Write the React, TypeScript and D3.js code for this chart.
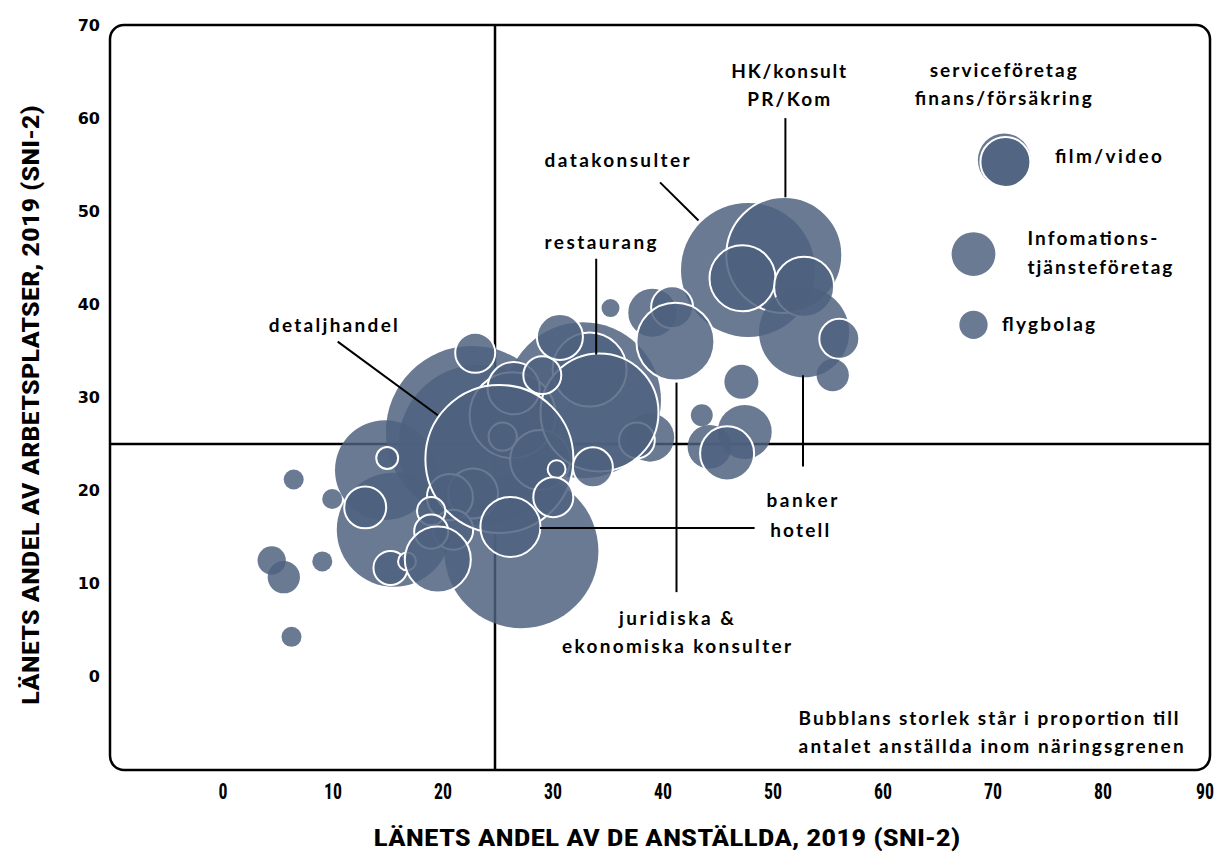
import React from 'react';
import * as d3 from 'd3';

// ---------- data (draw order = array order) ----------
const bubbleIds = [
  'bg-a', 'bg-b', 'bg-c', 'bg-d', 'big-low', 'rest-bg',
  'datakonsulter', 'HK/konsult', 'PR/Kom', 'serviceföretag', 'banker', 'finans/försäkring',
  'r1', 'r2', 'r3', 'r4', 'r5', 'r6',
  'm1', 'm2', 'm3', 'juridiska & ekonomiska konsulter', 'm4', 'm5', 'm6',
  'c1', 'c2', 'c3', 'c4', 'c5', 'c6', 'c7', 'c8',
  'restaurang', 'detaljhandel',
  'c9', 'c10', 'c11', 'c12', 'c13', 'hotell',
  'l1', 'l2', 'l3', 'l4', 'l5', 'l6', 'l7',
  'o1', 'o2', 'o3', 'o4', 'o5', 'o6',
  'film-bg', 'film/video', 'Infomationstjänsteföretag', 'flygbolag',
];
const xValues = [
  22.9, 23.5, 15.0, 15.8, 27.4, 33.0,
  48.0, 51.3, 47.5, 53.1, 53.1, 56.3,
  55.7, 47.4, 43.8, 47.7, 44.5, 46.1,
  39.3, 41.1, 35.5, 41.4, 39.1, 37.9, 33.6,
  26.6, 25.7, 23.0, 20.9, 29.1, 21.2, 26.7, 23.2,
  34.5, 25.4,
  29.3, 30.9, 33.9, 30.6, 30.3, 26.4,
  15.2, 13.2, 15.5, 17.0, 19.2, 19.2, 19.8,
  6.7, 10.2, 9.3, 4.7, 5.8, 6.5,
  71.3, 71.4, 68.5, 68.5,
];
const yValues = [
  26.3, 24.9, 22.2, 15.8, 13.5, 29.7,
  43.7, 45.3, 42.8, 41.9, 37.0, 36.3,
  32.4, 31.7, 28.1, 26.3, 24.7, 24.0,
  39.1, 39.7, 39.6, 36.0, 25.7, 25.4, 33.0,
  28.1, 25.8, 19.7, 19.3, 23.3, 15.8, 31.0, 34.8,
  28.4, 23.4,
  32.4, 36.5, 22.5, 22.3, 19.3, 16.1,
  23.5, 18.2, 11.7, 12.4, 17.8, 15.6, 12.6,
  21.2, 19.1, 12.4, 12.5, 10.7, 4.3,
  55.5, 55.3, 45.4, 37.8,
];
const sizes = [
  74.0, 64.0, 25.0, 32.5, 59.3, 60.8,
  44.9, 33.6, 10.9, 9.0, 20.3, 4.0,
  2.6, 2.9, 1.2, 7.3, 4.8, 7.3,
  6.25, 4.4, 1.0, 15.2, 5.8, 3.2, 13.7,
  18.5, 2.0, 6.25, 5.3, 9.0, 4.0, 6.8, 4.0,
  34.8, 54.8,
  3.6, 5.3, 4.0, 0.8, 4.0, 9.0,
  1.2, 4.4, 2.9, 0.8, 2.0, 2.9, 10.9,
  1.0, 1.0, 1.0, 2.0, 2.6, 1.0,
  7.0, 6.25, 4.8, 2.0,
];

// bubbles drawn without the white border
const noBorder = new Set([
  'bg-a', 'bg-b', 'bg-c', 'bg-d', 'big-low', 'rest-bg', 'datakonsulter', 'banker',
  'r1', 'r2', 'r3', 'r4', 'r5', 'm4', 'o1', 'o2', 'o3', 'o4', 'o5', 'o6',
  'film-bg', 'Infomationstjänsteföretag', 'flygbolag',
]);

const xTicks = [0, 10, 20, 30, 40, 50, 60, 70, 80, 90];
const yTicks = [0, 10, 20, 30, 40, 50, 60, 70];
const xTitle = 'LÄNETS ANDEL AV DE ANSTÄLLDA, 2019 (SNI-2)';
const yTitle = 'LÄNETS ANDEL AV ARBETSPLATSER, 2019 (SNI-2)';
const quadrantX = 25;
const quadrantY = 25;

// annotation labels: text, anchor point (data units), text anchor, width
const labelTexts = [
  'datakonsulter', 'HK/konsult', 'PR/Kom', 'serviceföretag', 'finans/försäkring',
  'film/video', 'Infomations-', 'tjänsteföretag', 'flygbolag', 'restaurang', 'detaljhandel',
  'banker', 'hotell', 'juridiska &', 'ekonomiska konsulter',
  'Bubblans storlek står i proportion till', 'antalet anställda inom näringsgrenen',
];
const labelX = [36.1, 51.7, 51.7, 71.2, 71.2, 75.9, 73.4, 73.4, 71.1, 34.6, 10.3, 52.9, 52.7, 41.5, 41.5, 52.6, 52.6];
const labelY = [54.75, 64.3, 61.3, 64.4, 61.4, 55.2, 46.4, 43.3, 37.1, 46.0, 37.0, 18.2, 15.0, 5.6, 2.6, -5.2, -8.2];
const labelAnchor = ['middle', 'middle', 'middle', 'middle', 'middle', 'start', 'start', 'start', 'start', 'middle', 'middle', 'middle', 'middle', 'middle', 'middle', 'start', 'start'];
const labelWidth = [145, 115, 83, 147, 177, 107, 130, 145, 93, 112, 129, 71, 59, 115, 229, 380, 385];

// leader lines [x1, y1, x2, y2] in data units
const leaders = [
  [40.0, 53.1, 43.5, 49.0],
  [51.4, 60.0, 51.4, 51.5],
  [34.2, 44.9, 34.2, 34.6],
  [10.7, 36.0, 19.8, 28.1],
  [53.0, 32.4, 53.0, 22.6],
  [29.1, 16.0, 48.6, 16.0],
  [41.5, 31.6, 41.5, 9.1],
];

export default function App() {
  const W = 1222;
  const H = 855;
  const x = d3.scaleLinear().domain([-10, 90]).range([110, 1210]);
  const y = d3.scaleLinear().domain([-10, 70]).range([770, 25]);
  const r = d3.scaleSqrt().domain([0, 100]).range([0, 100]);
  const fill = '#4e617e';
  const labelFont = "Lato, 'Open Sans', sans-serif";
  const narrowFont = "'Liberation Sans Narrow', 'Roboto Condensed', Roboto, sans-serif";

  return (
    <svg width={W} height={H} style={{ position: 'absolute', left: 0, top: 0, background: '#fff' }}>
      <rect x={x(-10)} y={y(70)} width={x(90) - x(-10)} height={y(-10) - y(70)} rx={14} ry={14}
        fill="#fff" stroke="#000" strokeWidth={2.5} />
      {/* quadrant lines */}
      <line x1={x(quadrantX)} x2={x(quadrantX)} y1={y(70)} y2={y(-10)} stroke="#000" strokeWidth={2.5} />
      <line x1={x(-10)} x2={x(90)} y1={y(quadrantY)} y2={y(quadrantY)} stroke="#000" strokeWidth={2.5} />

      {/* bubbles */}
      {bubbleIds.map((id, i) => (
        <circle key={id} cx={x(xValues[i])} cy={y(yValues[i])} r={r(sizes[i])}
          fill={fill} fillOpacity={0.84}
          stroke={noBorder.has(id) ? 'none' : '#fff'} strokeWidth={2} />
      ))}

      {/* leader lines */}
      {leaders.map((l, i) => (
        <line key={i} x1={x(l[0])} y1={y(l[1])} x2={x(l[2])} y2={y(l[3])} stroke="#000" strokeWidth={2} />
      ))}

      {/* labels */}
      {labelTexts.map((t, i) => (
        <text key={t} x={x(labelX[i])} y={y(labelY[i])} textAnchor={labelAnchor[i]}
          fontFamily={labelFont} fontWeight={700} fontSize={19} fill="#000"
          textLength={labelWidth[i]} lengthAdjust="spacing">{t}</text>
      ))}

      {/* y ticks */}
      {yTicks.map((t) => (
        <text key={t} x={100} y={y(t)} dy="0.35em" textAnchor="end"
          fontFamily="'DejaVu Sans', Verdana, sans-serif" fontWeight={700} fontSize={16} fill="#000">{t}</text>
      ))}
      {/* x ticks */}
      {xTicks.map((t) => (
        <text key={t} x={x(t) + (t === 90 ? -5 : 3)} y={799} textAnchor="middle"
          fontFamily={narrowFont} fontWeight={700} fontSize={22} fill="#000"
          textLength={String(t).length * 9} lengthAdjust="spacingAndGlyphs">{t}</text>
      ))}

      {/* axis titles */}
      <text x={667} y={846} textAnchor="middle" fontFamily={narrowFont} fontWeight={700} fontSize={24}
        textLength={587} lengthAdjust="spacingAndGlyphs">{xTitle}</text>
      <text transform={`translate(39, 405) rotate(-90)`} textAnchor="middle" fontFamily={narrowFont}
        fontWeight={700} fontSize={24} textLength={600} lengthAdjust="spacingAndGlyphs">{yTitle}</text>
    </svg>
  );
}
